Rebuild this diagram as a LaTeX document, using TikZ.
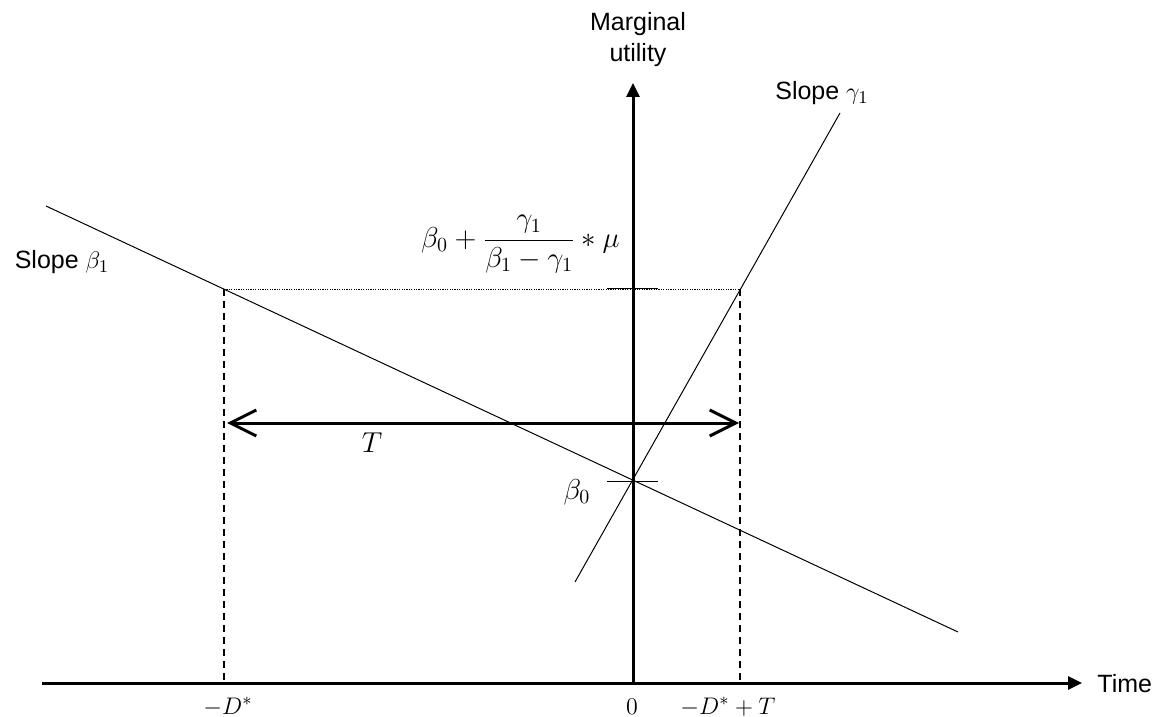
\documentclass[tikz,border=0pt]{standalone}
\usepackage[no-math]{fontspec}
\setmainfont{Liberation Sans}
\usetikzlibrary{arrows.meta}
\begin{document}
\begin{tikzpicture}[x=0.5pt,y=-0.5pt,
  thinline/.style={line width=0.5pt},
  axisline/.style={line width=1.5pt, -{Triangle[length=7pt,width=6.5pt]}},
  guide/.style={line width=1pt, dash pattern=on 3.5pt off 2.5pt},
  dotline/.style={line width=0.4pt, dash pattern=on 0.6pt off 0.6pt},
  spanarrow/.style={line width=1.5pt, {Straight Barb[length=13pt,width=13pt]}-{Straight Barb[length=13pt,width=13pt]}},
  lbl/.style={font=\fontsize{12.5}{15.5}\selectfont, inner sep=0pt},
  mlbl/.style={font=\fontsize{14}{16}\selectfont, inner sep=0pt},
  ]
\useasboundingbox (0,0) rectangle (1164,717);
% coordinates
\coordinate (O) at (633,683);
\coordinate (xstart) at (42,683);
\coordinate (xend) at (1082,683);
\coordinate (yend) at (633,83);
\coordinate (b1s) at (46,206);
\coordinate (b1e) at (958,632);
\coordinate (g1s) at (575,582);
\coordinate (g1e) at (840,113);
\coordinate (Lt) at (224,289);
\coordinate (Lb) at (224,683);
\coordinate (Rt) at (740,289);
\coordinate (Rb) at (740,683);
\coordinate (t1a) at (607,289);
\coordinate (t1b) at (658,289);
\coordinate (t0a) at (607,481);
\coordinate (t0b) at (658,481);
\coordinate (Ta) at (227,423);
\coordinate (Tb) at (739,423);
% axes
\draw[axisline] (xstart) -- (xend);
\draw[axisline] (O) -- (yend);
% curves
\draw[thinline] (b1s) -- (b1e);
\draw[thinline] (g1s) -- (g1e);
% guides
\draw[dotline] (Lt) -- (Rt);
\draw[guide] (Lt) -- (Lb);
\draw[guide] (Rt) -- (Rb);
\draw[thinline] (t1a) -- (t1b);
\draw[thinline] (t0a) -- (t0b);
\draw[spanarrow] (Ta) -- (Tb);
% labels
\node[lbl, align=center] (ylab) at (638,40) {Marginal\\utility};
\node[lbl, anchor=west] (xlab) at (1097,684) {Time};
\node[lbl] (sb) at (62,262) {Slope $\beta_1$};
\node[lbl] (sg) at (822,93) {Slope $\gamma_1$};
\node[mlbl] (Tl) at (372,443) {$T$};
\node[mlbl] (b0) at (577,492) {$\beta_0$};
\node[mlbl, anchor=east] (form) at (620,244) {$\displaystyle \beta_0+\frac{\gamma_1}{\beta_1-\gamma_1}*\mu$};
\node[lbl] (lD) at (228,707) {$-D^*$};
\node[lbl] (l0) at (632,707) {$0$};
\node[lbl] (lDT) at (728,707) {$-D^*+T$};
\end{tikzpicture}
\end{document}
